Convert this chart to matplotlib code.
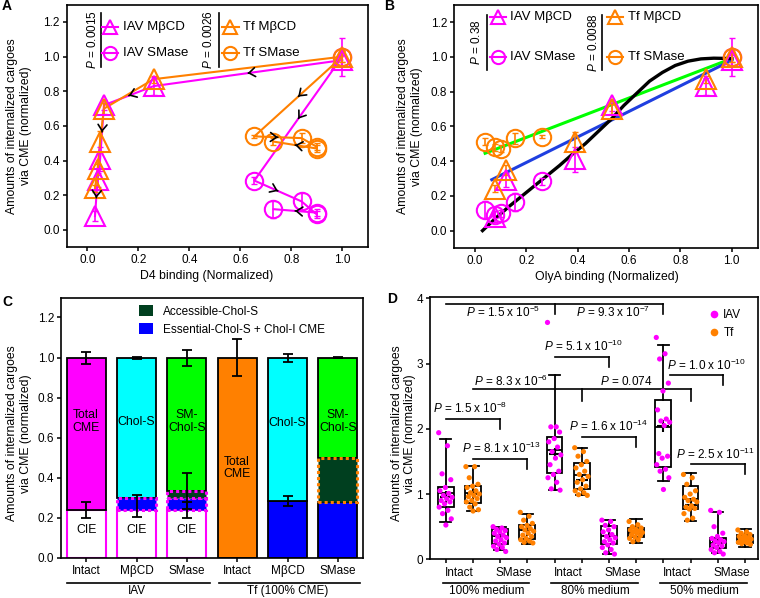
import numpy as np
import matplotlib
matplotlib.use("Agg")
import matplotlib.pyplot as plt
import matplotlib.transforms as mtransforms
from matplotlib.lines import Line2D
from matplotlib.patches import Patch

plt.rcParams["font.family"] = ["Liberation Sans", "DejaVu Sans"]
plt.rcParams["font.size"] = 8
plt.rcParams["mathtext.fontset"] = "custom"
plt.rcParams["mathtext.rm"] = "Liberation Sans"
plt.rcParams["mathtext.it"] = "Liberation Sans:italic"
plt.rcParams["axes.linewidth"] = 1.2
for a in ("xtick", "ytick"):
    plt.rcParams[a + ".major.size"] = 3
    plt.rcParams[a + ".major.width"] = 1.1
    plt.rcParams[a + ".major.pad"] = 2

MAG = "#FF00FF"
ORG = "#FF8000"
CYAN = "#00FFFF"
GREEN = "#00FF00"
BLUE = "#0000FF"
DKGREEN = "#003F1F"

# ---- A / B : cargo uptake vs. toxin binding ----
mbcd_d4 = [1.0, 0.26, 0.065, 0.05, 0.04, 0.03]
mbcd_olya = [1.0, 0.90, 0.535, 0.39, 0.12, 0.08]
smase_d4 = [1.0, 0.655, 0.84, 0.90, 0.90, 0.73]
smase_olya = [1.0, 0.26, 0.155, 0.08, 0.10, 0.04]

iav_mbcd = [0.98, 0.83, 0.72, 0.41, 0.29, 0.08]
iav_mbcd_err = [0.03, 0.05, 0.03, 0.07, 0.04, 0.03]
tf_mbcd = [1.0, 0.87, 0.70, 0.51, 0.35, 0.24]
tf_mbcd_err = [0.03, 0.02, 0.03, 0.06, 0.03, 0.02]
iav_smase = [1.0, 0.285, 0.165, 0.09, 0.10, 0.12]
iav_smase_err = [0.11, 0.02, 0.05, 0.02, 0.02, 0.05]
tf_smase = [1.0, 0.54, 0.53, 0.48, 0.47, 0.51]
tf_smase_err = [0.03, 0.01, 0.03, 0.02, 0.02, 0.02]

p_a = ["0.0015", "0.0026"]
p_b = ["0.38", "0.0088"]

# fitted curves in B
fit_green_x = [0.04, 1.0]
fit_green_y = [0.445, 0.99]
fit_blue_x = [0.066, 1.0]
fit_blue_y = [0.293, 0.98]
fit_black_x = [0.03, 0.08, 0.13, 0.18, 0.23, 0.28, 0.33, 0.38, 0.43, 0.48, 0.53, 0.58,
               0.63, 0.68, 0.73, 0.78, 0.83, 0.88, 0.93, 1.0]
fit_black_y = [0.0, 0.07, 0.135, 0.195, 0.255, 0.315, 0.375, 0.44, 0.50, 0.57, 0.64, 0.72,
               0.79, 0.86, 0.91, 0.95, 0.975, 0.988, 0.992, 0.99]

# ---- C : stacked bars ----
c_labels = ["Intact", "M\u03b2CD", "SMase", "Intact", "M\u03b2CD", "SMase"]
c_cie = [0.24, 0.24, 0.24, 0.0, 0.0, 0.0]
c_essential = [0.0, 0.06, 0.06, 0.0, 0.285, 0.28]
c_accessible = [0.0, 0.0, 0.035, 0.0, 0.0, 0.22]
c_top_colors = [MAG, CYAN, GREEN, ORG, CYAN, GREEN]
c_top_text = ["Total\nCME", "Chol-S", "SM-\nChol-S", "Total\nCME", "Chol-S", "SM-\nChol-S"]
c_err_x = [0, 0, 1, 1, 2, 2, 2, 3, 4, 4, 5]
c_err_y = [1.0, 0.24, 1.0, 0.26, 1.0, 0.24, 0.335, 1.0, 1.0, 0.285, 1.0]
c_err = [0.03, 0.04, 0.005, 0.055, 0.04, 0.04, 0.09, 0.09, 0.02, 0.025, 0.003]

# ---- D : box plots ----
d_q1 = [0.80, 0.87, 0.24, 0.31, 1.32, 1.08, 0.23, 0.34, 1.42, 0.77, 0.17, 0.245]
d_med = [1.01, 1.01, 0.36, 0.45, 1.67, 1.29, 0.35, 0.41, 2.03, 0.92, 0.245, 0.30]
d_q3 = [1.11, 1.12, 0.47, 0.53, 1.88, 1.47, 0.51, 0.48, 2.44, 1.13, 0.32, 0.37]
d_lo = [0.575, 0.74, 0.15, 0.23, 1.06, 0.99, 0.08, 0.25, 1.20, 0.59, 0.09, 0.19]
d_hi = [1.84, 1.43, 0.50, 0.69, 2.83, 1.71, 0.60, 0.61, 3.28, 1.32, 0.73, 0.46]
d_mean = [0.95, 1.00, 0.35, 0.45, 1.61, 1.21, 0.35, 0.41, 2.05, 0.83, 0.26, 0.31]
d_points = [
    [1.94, 1.74, 1.31, 1.22, 1.10, 1.05, 1.01, 0.98, 0.95, 0.93, 0.90, 0.88, 0.85, 0.80, 0.75, 0.70, 0.62, 0.525],
    [1.42, 1.42, 1.25, 1.15, 1.12, 1.10, 1.05, 1.02, 1.00, 0.98, 0.96, 0.93, 0.90, 0.88, 0.85, 0.80, 0.76, 0.74],
    [0.50, 0.48, 0.46, 0.44, 0.42, 0.40, 0.37, 0.35, 0.33, 0.30, 0.28, 0.25, 0.23, 0.20, 0.18, 0.15, 0.12],
    [0.72, 0.66, 0.60, 0.55, 0.52, 0.50, 0.47, 0.45, 0.43, 0.40, 0.37, 0.35, 0.32, 0.30, 0.28, 0.26, 0.25],
    [3.63, 2.03, 2.03, 1.95, 1.85, 1.80, 1.72, 1.65, 1.60, 1.55, 1.45, 1.35, 1.30, 1.25, 1.18, 1.08, 1.06],
    [1.71, 1.65, 1.58, 1.50, 1.45, 1.40, 1.35, 1.30, 1.27, 1.22, 1.18, 1.12, 1.08, 1.05, 1.02, 0.99, 0.98],
    [0.60, 0.58, 0.52, 0.50, 0.45, 0.42, 0.38, 0.35, 0.33, 0.30, 0.27, 0.25, 0.22, 0.18, 0.15, 0.10, 0.08],
    [0.58, 0.53, 0.50, 0.48, 0.46, 0.45, 0.43, 0.42, 0.41, 0.40, 0.38, 0.36, 0.34, 0.32, 0.30, 0.27],
    [3.40, 3.15, 3.07, 2.70, 2.58, 2.29, 2.15, 2.12, 2.10, 2.05, 1.62, 1.58, 1.55, 1.45, 1.38, 1.35, 1.25, 1.07],
    [1.30, 1.25, 1.15, 1.05, 1.00, 0.95, 0.92, 0.90, 0.88, 0.82, 0.80, 0.78, 0.77, 0.70, 0.63, 0.60],
    [0.75, 0.72, 0.50, 0.40, 0.35, 0.32, 0.30, 0.28, 0.27, 0.25, 0.22, 0.20, 0.18, 0.15, 0.12, 0.10, 0.08],
    [0.45, 0.42, 0.40, 0.38, 0.36, 0.35, 0.33, 0.32, 0.31, 0.30, 0.29, 0.28, 0.27, 0.26, 0.25, 0.24, 0.23],
]
d_cargo = ["IAV", "Tf"] * 6
d_ticklabels = ["Intact", "SMase"] * 3
d_groups = ["100% medium", "80% medium", "50% medium"]

# brackets: x start, x end, line y, down-tick x positions, tick bottom
d_brackets = [
    (0.0, 8.0, 3.915, [4.0, 8.0], 3.76),
    (4.0, 6.0, 3.10, [6.0], 2.945),
    (1.0, 9.0, 2.605, [5.0, 9.0], 2.42),
    (8.25, 10.2, 2.82, [10.2], 2.675),
    (0.0, 2.0, 2.155, [2.0], 2.0),
    (1.0, 3.0, 1.53, [3.0], 1.38),
    (5.0, 7.0, 1.875, [7.0], 1.72),
    (9.0, 11.0, 1.455, [11.0], 1.30),
]
d_ptext = [
    (2.1, 3.79, "1.5", "-5"), (6.15, 3.79, "9.3", "-7"),
    (5.05, 3.26, "5.1", "-10"), (2.41, 2.73, "8.3", "-6"),
    (9.57, 2.97, "1.0", "-10"), (0.89, 2.31, "1.5", "-8"),
    (2.04, 1.70, "8.1", "-13"), (6.0, 2.03, "1.6", "-14"),
    (9.9, 1.61, "2.5", "-11"),
]

W, H = 760, 598
fig = plt.figure(figsize=(W / 100, H / 100), dpi=100)


def px_axes(left, top, right, bottom):
    return fig.add_axes([left / W, 1 - bottom / H, (right - left) / W, (bottom - top) / H])


axA = px_axes(66.7, 5, 368.3, 247.3)
axB = px_axes(454, 5, 758, 248)
axC = px_axes(61, 298, 363, 558)
axD = px_axes(430, 297, 758, 559.3)

ylab = "Amounts of internalized cargoes\nvia CME (normalized)"
LAB = 8.8


def chevron(ax, x0, y0, x1, y1):
    mx, my = (x0 + x1) / 2, (y0 + y1) / 2
    dx, dy = (x1 - x0) * 0.002, (y1 - y0) * 0.002
    ax.annotate("", xy=(mx + dx, my + dy), xytext=(mx - dx, my - dy),
                arrowprops=dict(arrowstyle="->,head_length=0.55,head_width=0.4",
                                color="k", lw=1.2, shrinkA=0, shrinkB=0), zorder=5)


def p_legend(ax, pvals, px_pos, bar_pos, mk_pos, txt_pos, rows, bar_span, pc):
    for g, (cargo, col) in enumerate([("IAV", MAG), ("Tf", ORG)]):
        ax.text(px_pos[g], pc, r"$P$ = " + pvals[g], rotation=90, ha="center", va="center",
                transform=ax.transAxes, fontsize=8.5)
        ax.plot([bar_pos[g], bar_pos[g]], bar_span, color="k", lw=1.2,
                transform=ax.transAxes, clip_on=False)
        for r, (mk, ms, name) in enumerate([("^", 10.5, "M\u03b2CD"), ("o", 9.5, "SMase")]):
            ax.plot([mk_pos[g] - 0.027, mk_pos[g] + 0.027], [rows[r], rows[r]], color=col,
                    lw=1.5, transform=ax.transAxes, clip_on=False)
            ax.plot([mk_pos[g]], [rows[r]], marker=mk, ms=ms, mfc="none", mec=col, mew=1.5,
                    transform=ax.transAxes, clip_on=False)
            ax.text(txt_pos[g], rows[r], cargo + " " + name, va="center", ha="left",
                    transform=ax.transAxes, fontsize=9.5)


def setup_ab(ax, xlabel, xlab_x):
    ax.set_xlim(-0.081, 1.102)
    ax.set_ylim(-0.1, 1.298)
    ax.set_xticks(np.arange(0, 1.01, 0.2), [f"{v:.1f}" for v in np.arange(0, 1.01, 0.2)])
    ax.set_yticks(np.arange(0, 1.21, 0.2), [f"{v:.1f}" for v in np.arange(0, 1.21, 0.2)])
    ax.tick_params(labelsize=8.5)
    ax.text(xlab_x, -0.118, xlabel, transform=ax.transAxes, ha="center", va="center", fontsize=LAB)


# ---------- Panel A ----------
series = [
    (mbcd_d4, iav_mbcd, iav_mbcd_err, MAG, "^", 15, [0, 1, 2, 4]),
    (mbcd_d4, tf_mbcd, tf_mbcd_err, ORG, "^", 15, []),
    (smase_d4, iav_smase, iav_smase_err, MAG, "o", 12.5, [0, 1, 4]),
    (smase_d4, tf_smase, tf_smase_err, ORG, "o", 12.5, [0, 1, 4]),
]
for xs, ys, es, col, mk, ms, segs in series:
    axA.plot(xs, ys, color=col, lw=1.5, zorder=2)
for xs, ys, es, col, mk, ms, segs in series:
    axA.errorbar(xs, ys, yerr=es, fmt="none", ecolor=col, elinewidth=1.2, capsize=2.5, zorder=3)
    axA.plot(xs, ys, ls="none", marker=mk, ms=ms, mfc="none", mec=col, mew=1.5, zorder=4)
    for s in segs:
        chevron(axA, xs[s], ys[s], xs[s + 1], ys[s + 1])
setup_ab(axA, "D4 binding (Normalized)", 0.464)
axA.text(-0.158, 0.5, ylab, rotation=90, ha="center", va="center", transform=axA.transAxes,
         fontsize=LAB, multialignment="center")
p_legend(axA, p_a, [0.084, 0.469], [0.113, 0.505], [0.144, 0.543], [0.187, 0.584],
         [0.908, 0.80], [0.967, 0.744], 0.858)

# ---------- Panel B ----------
axB.plot(fit_green_x, fit_green_y, color=GREEN, lw=2.2, zorder=2)
axB.plot(fit_blue_x, fit_blue_y, color="#1F3FE0", lw=2.2, zorder=2)
axB.plot(fit_black_x, fit_black_y, color="k", lw=2.4, zorder=2, solid_joinstyle="round")
series_b = [
    (mbcd_olya, iav_mbcd, iav_mbcd_err, MAG, "^", 15),
    (mbcd_olya, tf_mbcd, tf_mbcd_err, ORG, "^", 15),
    (smase_olya, iav_smase, iav_smase_err, MAG, "o", 12.5),
    (smase_olya, tf_smase, tf_smase_err, ORG, "o", 12.5),
]
for xs, ys, es, col, mk, ms in series_b:
    axB.errorbar(xs, ys, yerr=es, fmt="none", ecolor=col, elinewidth=1.2, capsize=2.5, zorder=3)
    axB.plot(xs, ys, ls="none", marker=mk, ms=ms, mfc="none", mec=col, mew=1.5, zorder=4)
setup_ab(axB, "OlyA binding (Normalized)", 0.502)
axB.text(-0.145, 0.5, ylab, rotation=90, ha="center", va="center", transform=axB.transAxes,
         fontsize=LAB, multialignment="center")
p_legend(axB, p_b, [0.075, 0.458], [0.108, 0.486], [0.145, 0.53], [0.184, 0.573],
         [0.949, 0.785], [0.959, 0.733], 0.845)

# ---------- Panel C ----------
bw = 0.78
for i in range(6):
    base = 0.0
    if c_cie[i] > 0:
        axC.bar(i, c_cie[i], bottom=0, width=bw, color="white", edgecolor=MAG, lw=1.5, zorder=2)
        axC.text(i, 0.14, "CIE", ha="center", va="center", fontsize=LAB)
        base += c_cie[i]
    if c_essential[i] > 0:
        if i < 3:
            axC.bar(i, c_essential[i], bottom=base, width=bw, color=BLUE, edgecolor=MAG,
                    lw=2.2, ls=(0, (1, 1)), zorder=3)
        else:
            axC.bar(i, c_essential[i], bottom=base, width=bw, color=BLUE, edgecolor="k",
                    lw=1.3, zorder=2)
        base += c_essential[i]
    if c_accessible[i] > 0:
        axC.bar(i, c_accessible[i], bottom=base, width=bw, color=DKGREEN,
                edgecolor=MAG if i < 3 else ORG, lw=2.2, ls=(0, (1, 1)), zorder=3)
        base += c_accessible[i]
    axC.bar(i, 1.0 - base, bottom=base, width=bw, color=c_top_colors[i], edgecolor="k",
            lw=1.3, zorder=2)
    ty = 0.45 if i == 3 else (base + 1.0) / 2 + 0.03
    if i in (0, 2, 5):
        ty = 0.68
    axC.text(i, ty, c_top_text[i], ha="center", va="center", fontsize=LAB, linespacing=1.05)
axC.errorbar(c_err_x, c_err_y, yerr=c_err, fmt="none", ecolor="k", elinewidth=1.3,
             capsize=3.5, capthick=1.3, zorder=6)
axC.set_xlim(-0.5, 5.5)
axC.set_ylim(0, 1.297)
axC.set_xticks(range(6), c_labels, fontsize=8.5)
axC.set_yticks(np.arange(0, 1.21, 0.2), [f"{v:.1f}" for v in np.arange(0, 1.21, 0.2)])
axC.tick_params(axis="y", labelsize=8.5)
axC.text(-0.139, 0.48, ylab, rotation=90, ha="center", va="center", transform=axC.transAxes,
         fontsize=LAB, multialignment="center")
axC.legend(handles=[Patch(facecolor=DKGREEN), Patch(facecolor=BLUE)],
           labels=["Accessible-Chol-S", "Essential-Chol-S + Chol-I CME"],
           loc="upper left", bbox_to_anchor=(0.235, 1.0), frameon=False, fontsize=8.5,
           handlelength=1.2, handleheight=1.1, labelspacing=0.45, borderaxespad=0.2,
           handletextpad=0.8)
trC = mtransforms.blended_transform_factory(axC.transData, axC.transAxes)
for (x0, x1), name, cx in [((-0.39, 2.46), "IAV", 1.0), ((2.63, 5.45), "Tf (100% CME)", 4.0)]:
    axC.plot([x0, x1], [-0.095, -0.095], color="k", lw=1.2, transform=trC, clip_on=False)
    axC.text(cx, -0.128, name, transform=trC, ha="center", va="center", fontsize=8.5)

# ---------- Panel D ----------
stats = []
for i in range(12):
    stats.append(dict(med=d_med[i], q1=d_q1[i], q3=d_q3[i], whislo=d_lo[i], whishi=d_hi[i],
                      mean=d_mean[i], fliers=[]))
axD.bxp(stats, positions=range(12), widths=0.58, capwidths=0.42, showmeans=True,
        patch_artist=True,
        boxprops=dict(facecolor="none", edgecolor="k", lw=1.3),
        medianprops=dict(color="k", lw=1.3),
        whiskerprops=dict(color="k", lw=1.3),
        capprops=dict(color="k", lw=1.3),
        meanprops=dict(marker="+", markeredgecolor="k", markersize=9, markeredgewidth=1.5),
        zorder=2)
for i, pts in enumerate(d_points):
    n = len(pts)
    offs = ((np.arange(n) * 0.618034) % 1.0 - 0.5) * 0.52
    col = MAG if d_cargo[i] == "IAV" else ORG
    axD.scatter(i + offs, pts, s=14, color=col, edgecolor="none", zorder=3)
for x0, x1, y, ticks, yb in d_brackets:
    axD.plot([x0, x1], [y, y], color="k", lw=1.2)
    for tx in ticks:
        axD.plot([tx, tx], [y, yb], color="k", lw=1.2)
for x, y, mant, ex in d_ptext:
    axD.text(x, y, r"$P$ = " + mant + r" x 10$^{" + ex + r"}$", ha="center", va="center",
             fontsize=8.5)
axD.text(6.64, 2.72, r"$P$ = 0.074", ha="center", va="center", fontsize=8.5)
axD.set_xlim(-0.58, 11.48)
axD.set_ylim(0, 4.02)
axD.set_yticks(range(5))
axD.tick_params(axis="y", labelsize=8.5)
axD.set_xticks(range(12), [""] * 12)
trD = mtransforms.blended_transform_factory(axD.transData, axD.transAxes)
for k, lab in enumerate(d_ticklabels):
    axD.text(2 * k + 0.5, -0.051, lab, transform=trD, ha="center", va="center", fontsize=8.5)
for g, name in enumerate(d_groups):
    axD.plot([4 * g - 0.12, 4 * g + 3.07], [-0.089, -0.089], color="k", lw=1.2, transform=trD,
             clip_on=False)
    axD.text(4 * g + 1.5, -0.121, name, transform=trD, ha="center", va="center", fontsize=8.5)
axD.text(-0.081, 0.48, ylab, rotation=90, ha="center", va="center", transform=axD.transAxes,
         fontsize=LAB, multialignment="center")
axD.legend(handles=[Line2D([], [], ls="none", marker="o", ms=5.5, color=MAG, mec="none"),
                    Line2D([], [], ls="none", marker="o", ms=5.5, color=ORG, mec="none")],
           labels=["IAV", "Tf"], loc="upper left", bbox_to_anchor=(0.815, 0.995),
           frameon=False, fontsize=8.5, handletextpad=0.3, labelspacing=0.5, handlelength=1.0)

# panel letters
for lab, x, y in [("A", 7, 6), ("B", 389, 6), ("C", 7, 302), ("D", 392, 299)]:
    fig.text(x / W, 1 - y / H, lab, fontsize=10, fontweight="bold", ha="center", va="center")

fig.savefig("out.png", dpi=100)
